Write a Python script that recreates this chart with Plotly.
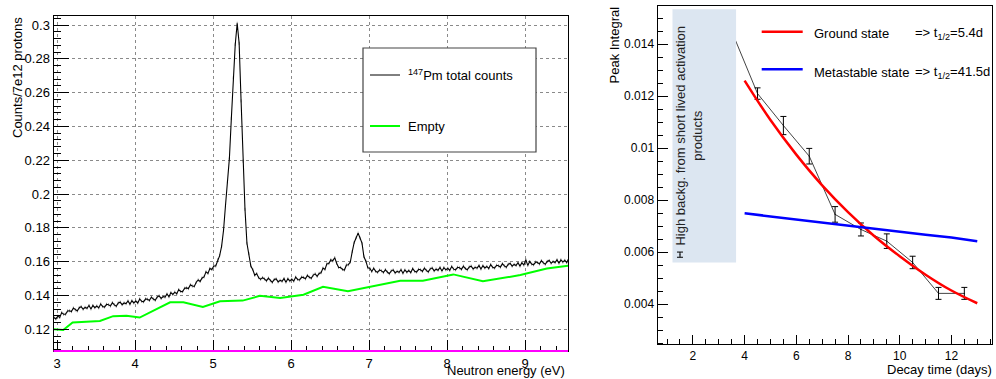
import numpy as np
import plotly.graph_objects as go

# ---------------- Left panel data ----------------
E_START, E_STOP = 2.96, 9.56
pm147_counts = [
    0.1270, 0.1262, 0.1278, 0.1270, 0.1299, 0.1289, 0.1289, 0.1309, 0.1310, 0.1305,
    0.1326, 0.1315, 0.1309, 0.1328, 0.1334, 0.1319, 0.1330, 0.1325, 0.1341, 0.1321,
    0.1341, 0.1328, 0.1338, 0.1327, 0.1350, 0.1335, 0.1332, 0.1348, 0.1346, 0.1338,
    0.1358, 0.1345, 0.1337, 0.1356, 0.1361, 0.1346, 0.1356, 0.1352, 0.1368, 0.1349,
    0.1369, 0.1356, 0.1367, 0.1356, 0.1380, 0.1366, 0.1363, 0.1380, 0.1378, 0.1371,
    0.1391, 0.1379, 0.1372, 0.1392, 0.1398, 0.1383, 0.1394, 0.1391, 0.1409, 0.1393,
    0.1417, 0.1407, 0.1420, 0.1410, 0.1435, 0.1424, 0.1423, 0.1443, 0.1445, 0.1441,
    0.1464, 0.1456, 0.1454, 0.1479, 0.1492, 0.1484, 0.1504, 0.1510, 0.1540, 0.1531,
    0.1560, 0.1554, 0.1575, 0.1575, 0.1612, 0.1636, 0.1691, 0.1786, 0.1932, 0.2073,
    0.2211, 0.2447, 0.2688, 0.2885, 0.3010, 0.2892, 0.2551, 0.2195, 0.1910, 0.1709,
    0.1648, 0.1574, 0.1553, 0.1520, 0.1530, 0.1506, 0.1496, 0.1506, 0.1498, 0.1487,
    0.1503, 0.1488, 0.1478, 0.1495, 0.1498, 0.1481, 0.1490, 0.1484, 0.1500, 0.1479,
    0.1499, 0.1486, 0.1496, 0.1485, 0.1509, 0.1495, 0.1492, 0.1509, 0.1507, 0.1499,
    0.1519, 0.1508, 0.1502, 0.1521, 0.1528, 0.1514, 0.1531, 0.1535, 0.1562, 0.1554,
    0.1588, 0.1589, 0.1611, 0.1605, 0.1624, 0.1591, 0.1566, 0.1566, 0.1554, 0.1551,
    0.1581, 0.1582, 0.1598, 0.1660, 0.1714, 0.1742, 0.1769, 0.1740, 0.1710, 0.1629,
    0.1603, 0.1564, 0.1561, 0.1542, 0.1561, 0.1543, 0.1537, 0.1551, 0.1546, 0.1536,
    0.1553, 0.1539, 0.1529, 0.1546, 0.1551, 0.1534, 0.1543, 0.1538, 0.1553, 0.1532,
    0.1551, 0.1538, 0.1548, 0.1536, 0.1559, 0.1543, 0.1539, 0.1555, 0.1552, 0.1543,
    0.1562, 0.1549, 0.1540, 0.1558, 0.1563, 0.1546, 0.1556, 0.1550, 0.1566, 0.1545,
    0.1565, 0.1552, 0.1561, 0.1549, 0.1572, 0.1556, 0.1552, 0.1567, 0.1564, 0.1555,
    0.1574, 0.1560, 0.1552, 0.1569, 0.1574, 0.1557, 0.1567, 0.1562, 0.1577, 0.1557,
    0.1576, 0.1563, 0.1572, 0.1560, 0.1583, 0.1567, 0.1563, 0.1579, 0.1576, 0.1568,
    0.1588, 0.1575, 0.1567, 0.1585, 0.1590, 0.1574, 0.1584, 0.1578, 0.1594, 0.1574,
    0.1594, 0.1580, 0.1612, 0.1578, 0.1601, 0.1586, 0.1582, 0.1598, 0.1595, 0.1587,
    0.1606, 0.1593, 0.1585, 0.1602, 0.1607, 0.1591, 0.1601, 0.1595, 0.1611, 0.1591,
    0.1611, 0.1598, 0.1608, 0.1595, 0.1618,
]
energy_ev = np.linspace(E_START, E_STOP, len(pm147_counts))

empty_energy = [2.96, 3.08, 3.20, 3.55, 3.72, 3.89, 4.06, 4.45, 4.62, 4.87, 5.09, 5.38,
                5.60, 5.86, 6.16, 6.41, 6.73, 7.40, 7.69, 8.08, 8.46, 8.94, 9.28, 9.56]
empty_counts = [0.1200, 0.1196, 0.1240, 0.1250, 0.1278, 0.1280, 0.1270, 0.1360, 0.1360,
                0.1332, 0.1366, 0.1370, 0.1398, 0.1385, 0.1405, 0.1452, 0.1426, 0.1487,
                0.1487, 0.1525, 0.1484, 0.1521, 0.1560, 0.1576]

# ---------------- Right panel data ----------------
decay_days = [1.5, 3.5, 4.5, 5.5, 6.5, 7.5, 8.5, 9.5, 10.5, 11.5, 12.5]
peak_integral = [0.0059, 0.0145, 0.0121, 0.01087, 0.00969, 0.00745, 0.00687,
                 0.00642, 0.00560, 0.00441, 0.00441]
peak_error = [0.00010, 0.00030, 0.00022, 0.00035, 0.00030, 0.00030, 0.00025,
              0.00028, 0.00024, 0.00023, 0.00023]

fit_days = [4, 5, 6, 7, 8, 9, 10, 11, 12, 13]
ground_fit = [0.01260, 0.01108, 0.00975, 0.00857, 0.00754, 0.00663, 0.00584,
              0.00513, 0.00452, 0.00403]
meta_fit = [0.00749, 0.00737, 0.00725, 0.00713, 0.00701, 0.00690, 0.00678,
            0.00667, 0.00656, 0.00642]

# shaded "high background" band (days / integral)
BAND_X = [1.21, 3.67]
BAND_Y = [0.0056, 0.01535]

FONT = "Liberation Sans, Arial, Helvetica, sans-serif"
W, H = 996, 379


def px(x):
    return x / W


def py(y):
    return 1 - y / H


fig = go.Figure()

# Left panel traces
fig.add_trace(go.Scatter(
    x=energy_ev, y=pm147_counts, mode="lines",
    line=dict(color="black", width=1.1),
    error_y=dict(type="constant", value=0.0009, color="rgba(110,110,110,0.7)",
                 thickness=1, width=0),
    showlegend=False, xaxis="x", yaxis="y"))
fig.add_trace(go.Scatter(
    x=empty_energy, y=empty_counts, mode="lines",
    line=dict(color="#00ff00", width=2),
    showlegend=False, xaxis="x", yaxis="y"))

# Right panel traces
fig.add_trace(go.Scatter(
    x=decay_days, y=peak_integral, mode="lines",
    line=dict(color="#444444", width=1),
    showlegend=False, xaxis="x2", yaxis="y2"))
fig.add_trace(go.Scatter(
    x=decay_days, y=peak_integral, mode="markers",
    marker=dict(size=1, color="black"),
    error_y=dict(type="data", array=peak_error, color="black", thickness=1, width=3),
    showlegend=False, xaxis="x2", yaxis="y2"))
fig.add_trace(go.Scatter(
    x=[BAND_X[0], BAND_X[1], BAND_X[1], BAND_X[0], BAND_X[0]],
    y=[BAND_Y[0], BAND_Y[0], BAND_Y[1], BAND_Y[1], BAND_Y[0]],
    mode="lines", fill="toself", fillcolor="#dce6f1",
    line=dict(width=0, color="#dce6f1"),
    showlegend=False, hoverinfo="skip", xaxis="x2", yaxis="y2"))
fig.add_trace(go.Scatter(
    x=decay_days[:1], y=peak_integral[:1], mode="markers",
    marker=dict(size=1, color="black"),
    error_y=dict(type="data", array=peak_error[:1], color="black", thickness=1, width=3),
    showlegend=False, xaxis="x2", yaxis="y2"))
fig.add_trace(go.Scatter(
    x=fit_days, y=ground_fit, mode="lines", line_shape="spline",
    line=dict(color="#ff0000", width=2.5),
    showlegend=False, xaxis="x2", yaxis="y2"))
fig.add_trace(go.Scatter(
    x=fit_days, y=meta_fit, mode="lines",
    line=dict(color="#0000ff", width=2.5),
    showlegend=False, xaxis="x2", yaxis="y2"))

axis_common = dict(showline=True, linecolor="black", linewidth=1, mirror=True,
                   ticks="inside", tickcolor="black", zeroline=False, automargin=False)
tick13 = dict(family=FONT, size=13, color="black")
tick12 = dict(family=FONT, size=12, color="black")

fig.update_layout(
    width=W, height=H,
    margin=dict(l=0, r=0, t=0, b=0, autoexpand=False),
    paper_bgcolor="white", plot_bgcolor="white",
    font=dict(family=FONT, size=13, color="black"),
    xaxis=dict(domain=[px(53.5), px(568)], range=[2.955, 9.551], anchor="y",
               dtick=1, tick0=0, ticklen=11, tickfont=tick13,
               minor=dict(ticks="inside", dtick=0.2, tick0=0, ticklen=5, tickcolor="black"),
               showgrid=True, gridcolor="#8a8a8a", griddash="dot", gridwidth=1,
               **axis_common),
    yaxis=dict(domain=[py(351), py(15.7)], range=[0.1072, 0.3055], anchor="x",
               dtick=0.02, tick0=0, ticklen=15, tickfont=tick13,
               minor=dict(ticks="inside", dtick=0.004, tick0=0, ticklen=7, tickcolor="black"),
               showgrid=True, gridcolor="#8a8a8a", griddash="dot", gridwidth=1,
               **axis_common),
    xaxis2=dict(domain=[px(657.5), px(992)], range=[0.63, 13.57], anchor="y2",
                dtick=2, tick0=0, ticklen=9, tickfont=tick12,
                minor=dict(ticks="inside", dtick=0.5, tick0=0, ticklen=5, tickcolor="black"),
                showgrid=False, **axis_common),
    yaxis2=dict(domain=[py(344.3), py(5.5)], range=[0.00245, 0.01549], anchor="x2",
                dtick=0.002, tick0=0, ticklen=10, tickfont=tick12,
                minor=dict(ticks="inside", dtick=0.0005, tick0=0, ticklen=5, tickcolor="black"),
                showgrid=False, **axis_common),
)

shapes = [
    # magenta line at bottom of left frame
    dict(type="line", xref="x domain", yref="y domain", x0=0, x1=1, y0=0, y1=0,
         line=dict(color="#ff00ff", width=2), layer="above"),
    # left legend box
    dict(type="rect", xref="paper", yref="paper", x0=px(363), x1=px(536), y0=py(152), y1=py(48),
         line=dict(color="#444444", width=1.2), fillcolor="white", layer="above"),
    dict(type="line", xref="paper", yref="paper", x0=px(370), x1=px(400), y0=py(75), y1=py(75),
         line=dict(color="black", width=1), layer="above"),
    dict(type="line", xref="paper", yref="paper", x0=px(370), x1=px(400), y0=py(126), y1=py(126),
         line=dict(color="#00ff00", width=2), layer="above"),
    # right legend samples
    dict(type="line", xref="paper", yref="paper", x0=px(761.7), x1=px(802.7), y0=py(31.7), y1=py(31.7),
         line=dict(color="#ff0000", width=2.5), layer="above"),
    dict(type="line", xref="paper", yref="paper", x0=px(761.7), x1=px(802.7), y0=py(69.3), y1=py(69.3),
         line=dict(color="#0000ff", width=2.5), layer="above"),
]

annotations = [
    # axis titles
    dict(text="Counts/7e12 protons", xref="paper", yref="paper", x=px(17), y=py(78),
         textangle=-90, showarrow=False, xanchor="center", yanchor="middle",
         font=dict(size=13)),
    dict(text="Neutron energy (eV)", xref="paper", yref="paper", x=px(567), y=py(370),
         showarrow=False, xanchor="right", yanchor="middle", font=dict(size=13)),
    dict(text="Peak Integral", xref="paper", yref="paper", x=px(613.5), y=py(45),
         textangle=-90, showarrow=False, xanchor="center", yanchor="middle",
         font=dict(size=13)),
    dict(text="Decay time (days)", xref="paper", yref="paper", x=px(994), y=py(369),
         showarrow=False, xanchor="right", yanchor="middle", font=dict(size=13)),
    # left legend text
    dict(text="<sup>147</sup>Pm total counts", xref="paper", yref="paper", x=px(406), y=py(75),
         showarrow=False, xanchor="left", yanchor="middle", font=dict(size=13)),
    dict(text="Empty", xref="paper", yref="paper", x=px(406), y=py(126),
         showarrow=False, xanchor="left", yanchor="middle", font=dict(size=13)),
    # right legend text
    dict(text="Ground state", xref="paper", yref="paper", x=px(812), y=py(33),
         showarrow=False, xanchor="left", yanchor="middle", font=dict(size=13)),
    dict(text="=> t<sub>1/2</sub>=5.4d", xref="paper", yref="paper", x=px(913), y=py(33),
         showarrow=False, xanchor="left", yanchor="middle", font=dict(size=13)),
    dict(text="Metastable state", xref="paper", yref="paper", x=px(812), y=py(72),
         showarrow=False, xanchor="left", yanchor="middle", font=dict(size=13)),
    dict(text="=> t<sub>1/2</sub>=41.5d", xref="paper", yref="paper", x=px(913), y=py(72),
         showarrow=False, xanchor="left", yanchor="middle", font=dict(size=13)),
    # band label
    dict(text="High backg. from short lived activation<br>products", xref="x2", yref="y2",
         x=1.84, y=(BAND_Y[0] + BAND_Y[1]) / 2, textangle=-90, showarrow=False,
         xanchor="center", yanchor="middle", font=dict(size=13, color="#222222")),
]

fig.update_layout(shapes=shapes, annotations=annotations)
fig.write_html(
    "out.html",
    config={"displayModeBar": False, "staticPlot": True},
    post_script="document.body.style.margin='0';document.body.style.overflow='hidden';",
)
